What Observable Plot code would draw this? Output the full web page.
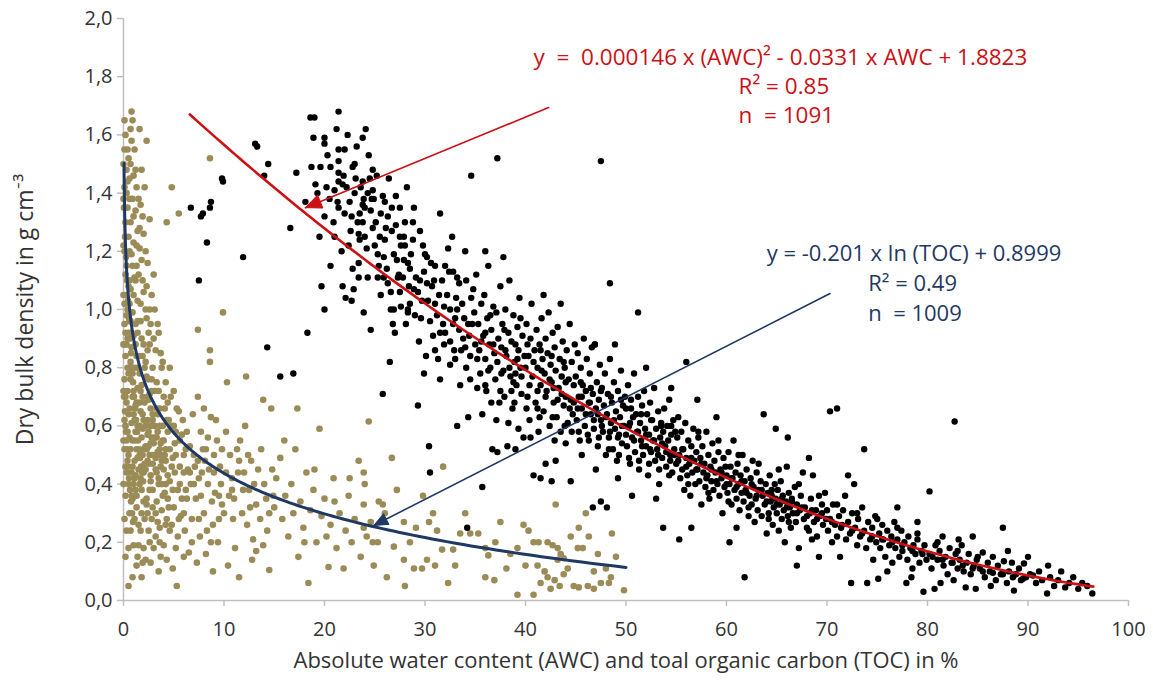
<!DOCTYPE html>
<html><head><meta charset="utf-8">
<script src="https://cdn.jsdelivr.net/npm/d3@7"></script>
<script src="https://cdn.jsdelivr.net/npm/@observablehq/plot@0.6"></script>
<style>body{margin:0;background:#fff;}</style>
</head><body><div id="chart"></div>
<script>
// Absolute water content (AWC) vs dry bulk density — black points
const awcPoints = [
[6.7,1.35],[7.5,1.10],[7.7,1.32],[7.9,1.33],[8.3,1.23],[8.6,1.35],[8.7,1.37],[9.8,1.45],[9.9,1.44],[11.9,1.18],[13.1,1.57],[13.3,1.56],[14.0,1.46],[14.4,1.50],[14.3,0.87],[15.6,0.77],[16.6,1.28],[17.2,1.47],[16.9,0.78],[18.1,1.37],
[18.6,1.66],[19.0,1.66],[21.4,1.68],[21.2,1.62],[22.3,1.60],[18.9,1.59],[20.0,1.59],[20.0,1.57],[21.4,1.55],[19.6,1.49],[18.7,1.49],[20.6,1.49],[21.4,1.51],[21.4,1.47],[19.1,1.43],[20.2,1.42],[19.3,1.40],[21.4,1.44],[21.9,1.46],[21.8,1.43],[21.3,1.37],[21.4,1.35],[22.0,1.33],[20.0,1.32],[21.7,1.20],[19.7,1.08],[20.0,1.00],[21.8,1.08],[22.1,1.04],[18.3,0.92],[20.9,1.30],[19.5,1.25],
[23.8,1.59],[23.1,1.45],[23.8,1.44],[24.5,1.45],[23.0,1.40],[23.6,1.42],[23.9,1.38],[24.3,1.40],[24.8,1.41],[24.7,1.38],[23.8,1.36],[24.0,1.35],[24.9,1.38],[25.8,1.39],[22.7,1.32],[23.3,1.30],[23.8,1.30],[24.8,1.28],[25.6,1.33],[22.6,1.27],[23.4,1.26],[23.5,1.24],[25.3,1.19],[25.9,1.18],[23.4,1.16],[25.4,1.15],[23.4,1.11],[24.3,1.11],[25.3,1.11],[25.9,1.11],[22.9,1.07],[22.7,1.03],[25.6,1.05],[24.1,1.62],[22.8,1.49],[25.2,1.46],[24.4,1.53],[23.2,1.56],[25.5,1.25],[24.2,1.21],[23.9,0.99],[24.6,0.93],[25.8,0.71],
[27.1,1.39],[26.3,1.32],[26.7,1.35],[26.1,1.28],[26.7,1.27],[27.1,1.29],[27.5,1.25],[27.9,1.25],[27.6,1.22],[28.0,1.22],[28.8,1.30],[28.8,1.24],[28.6,1.19],[29.8,1.22],[26.2,1.14],[28.3,1.16],[28.5,1.14],[27.4,1.12],[27.3,1.11],[27.8,1.11],[26.6,1.06],[26.6,1.00],[26.9,1.00],[27.6,1.01],[28.3,1.00],[28.5,1.02],[29.7,1.03],[29.3,1.06],[29.1,1.11],[28.1,0.95],[27.0,0.92],[29.4,0.89],[26.4,1.45],[27.5,1.35],[28.9,1.35],[29.5,1.27],[26.5,0.82],[29.3,0.67],[29.9,0.78],[26.8,0.95],[28.3,0.99],[29.9,1.13],[28.2,1.42],
[20.5,1.38],[21.0,1.41],[22.5,1.37],[22.2,1.42],[23.5,1.33],[24.6,1.34],[25.1,1.30],[26.0,1.24],[26.9,1.19],[27.2,1.17],[27.9,1.17],[28.4,1.08],[28.9,1.07],[29.5,1.10],[29.0,0.98],[25.0,1.22],[24.0,1.25],[22.4,1.22],[21.0,1.25],[20.6,1.15],[22.8,1.14],[26.3,1.09],[27.5,1.06],[28.0,1.30],[29.6,0.97],[26.0,1.37],[23.0,1.50],[20.3,1.53],[22.0,1.55],[24.8,1.48],
[30.0,1.19],[30.2,1.18],[30.6,1.16],[31.0,1.15],[31.4,1.05],[32.0,1.15],[32.4,1.13],[32.8,1.13],[33.2,1.11],[33.4,1.09],[34.1,1.10],[34.8,1.07],[31.5,1.33],[32.7,1.25],[34.6,1.46],[30.3,1.03],[31.2,0.98],[31.8,0.95],[32.5,1.00],[33.0,0.97],[33.7,1.02],[34.3,0.95],[34.9,0.99],[30.8,0.91],[31.9,0.88],[32.9,0.86],[33.8,0.90],[34.5,0.84],[30.4,0.53],[30.5,0.44],[31.5,0.76],[32.5,0.81],[33.5,0.74],[34.5,0.76],[34.3,0.63],[33.2,0.60],[34.2,0.25],[30.1,0.84],[32.3,1.21],[34.0,1.20],[33.1,1.04],[30.7,1.08],[34.6,1.04],[31.7,1.10],[32.0,0.92],[33.0,0.83],[34.0,0.87],[31.0,0.86],
[30.5,0.96],[31.0,1.02],[31.5,0.92],[32.2,1.05],[32.8,0.95],[33.4,0.93],[33.9,0.97],[34.4,0.91],[35.0,0.88],[30.9,1.10],[31.9,1.01],[33.6,0.86],[34.7,0.95],[32.5,0.89],[31.3,0.83],[33.2,1.00],[34.1,0.80],[30.2,1.09],
[35.1,1.12],[35.3,0.95],[35.4,0.86],[35.5,0.78],[35.6,1.02],[35.7,0.64],[35.8,0.91],[35.9,1.05],[36.0,0.83],[36.1,0.72],[36.2,0.97],[36.3,1.15],[36.4,0.88],[36.5,0.80],[36.6,0.93],[36.7,0.52],[36.8,1.01],[36.9,0.85],[37.0,0.76],[37.1,0.99],[37.2,0.51],[37.2,1.52],[37.3,0.90],[37.4,0.68],[37.5,1.08],[37.6,0.87],[37.7,0.95],[37.8,0.79],[37.9,0.70],[38.0,1.00],[38.1,0.84],[38.2,0.53],[38.3,0.61],[38.3,0.92],[38.4,1.10],[38.5,0.77],[38.6,0.89],[38.7,0.66],[38.8,0.98],[38.9,0.82],[39.0,0.52],[39.1,0.74],[39.2,0.94],[39.3,0.59],[39.3,0.86],[39.4,1.04],[39.5,0.80],[39.6,0.71],[39.7,0.91],[39.8,0.56],[39.9,0.84],[35.2,0.73],[36.0,1.20],[37.8,1.18],[38.6,0.72],[39.5,0.97],[36.6,0.68],[35.7,0.39],[37.1,0.62],[39.0,0.78],
[35.2,0.83],[35.6,0.89],[36.0,0.92],[36.3,0.79],[36.8,0.88],[37.2,0.82],[37.6,0.78],[38.0,0.86],[38.4,0.80],[38.8,0.75],[39.2,0.83],[39.6,0.77],[40.0,0.80],[40.4,0.74],[40.8,0.82],[41.2,0.72],[41.6,0.79],[42.0,0.70],[42.4,0.76],[42.8,0.73],[43.2,0.69],[43.6,0.71],[44.0,0.75],[44.4,0.66],[44.8,0.68],[36.5,0.98],[37.9,0.93],[39.0,0.88],[40.2,0.88],[41.5,0.86],[42.6,0.84],[43.8,0.82],[36.0,0.74],[37.5,0.72],[38.9,0.68],[40.1,0.66],[41.4,0.63],[42.7,0.63],[43.9,0.60],[44.6,0.58],
[40.1,0.95],[40.2,0.70],[40.3,0.84],[40.4,0.62],[40.5,0.90],[40.6,1.02],[40.7,0.77],[40.8,0.43],[40.9,0.86],[41.0,0.68],[41.1,0.93],[41.2,0.80],[41.3,0.58],[41.4,0.88],[41.5,0.42],[41.5,0.74],[41.6,0.97],[41.7,0.83],[41.8,0.65],[41.9,0.78],[42.0,0.47],[42.0,0.90],[42.1,0.72],[42.2,0.85],[42.3,0.99],[42.4,0.60],[42.5,0.81],[42.6,0.41],[42.6,0.75],[42.7,0.92],[42.8,0.68],[42.9,0.87],[43.0,0.48],[43.0,0.79],[43.1,0.63],[43.2,0.94],[43.3,0.73],[43.4,0.83],[43.5,0.58],[43.6,0.77],[43.7,0.89],[43.8,0.67],[43.9,0.80],[44.0,0.70],[44.1,0.86],[44.2,0.61],[44.3,0.76],[44.4,0.95],[44.5,0.41],[44.5,0.69],[44.6,0.82],[44.7,0.64],[44.8,0.74],[44.9,0.88],[40.5,0.56],[41.8,1.05],[43.5,1.02],[44.0,0.54],[42.9,0.55],[41.2,0.66],
[45.0,0.77],[45.1,0.62],[45.2,0.85],[45.3,0.70],[45.4,0.55],[45.5,0.80],[45.6,0.66],[45.7,0.74],[45.8,0.90],[45.9,0.60],[46.0,0.72],[46.1,0.83],[46.2,0.57],[46.3,0.68],[46.4,0.78],[46.5,0.64],[46.6,0.87],[46.7,0.32],[46.7,0.71],[46.8,0.59],[46.9,0.88],[47.0,0.66],[47.1,0.75],[47.2,0.53],[47.3,0.69],[47.4,0.81],[47.5,0.34],[47.5,1.51],[47.5,0.62],[47.6,0.73],[47.7,0.58],[47.8,0.67],[47.9,0.78],[48.0,0.50],[48.1,0.32],[48.1,0.64],[48.2,0.71],[48.3,0.56],[48.4,0.83],[48.5,0.61],[48.6,0.68],[48.7,0.52],[48.8,0.75],[48.9,0.59],[49.0,0.65],[49.1,0.48],[49.2,0.72],[49.3,0.57],[49.4,0.63],[49.5,0.79],[49.6,0.54],[49.7,0.67],[49.8,0.60],[49.9,0.70],[48.4,1.09],[46.9,0.88],[47.0,0.45],[49.2,0.42],[45.6,0.50],[48.9,0.88],
[45.2,0.66],[45.6,0.70],[46.0,0.64],[46.4,0.68],[46.8,0.62],[47.2,0.64],[47.6,0.60],[48.0,0.63],[48.4,0.58],[48.8,0.62],[49.2,0.56],[49.6,0.60],[50.0,0.57],[50.4,0.61],[50.8,0.55],[51.2,0.58],[51.6,0.53],[52.0,0.57],[52.4,0.52],[52.8,0.55],[53.2,0.50],[53.6,0.54],[54.0,0.51],[54.4,0.48],[54.8,0.50],[45.5,0.75],[46.5,0.73],[47.5,0.72],[48.5,0.70],[49.5,0.69],[50.5,0.66],[51.5,0.64],[52.5,0.62],[53.5,0.60],[54.5,0.60],[45.3,0.58],[46.3,0.55],[47.3,0.56],[48.3,0.52],[49.3,0.50],[50.3,0.49],[51.3,0.48],[52.3,0.47],[53.3,0.45],[54.3,0.43],
[50.0,0.66],[50.1,0.53],[50.2,0.74],[50.3,0.60],[50.4,0.47],[50.5,0.69],[50.6,0.56],[50.7,0.63],[50.8,0.78],[50.9,0.51],[51.0,0.64],[51.1,0.58],[51.2,0.99],[51.2,0.70],[51.3,0.45],[51.4,0.61],[51.5,0.55],[51.6,0.67],[51.7,0.50],[51.8,0.72],[51.9,0.59],[52.0,0.53],[52.1,0.64],[52.2,0.43],[52.3,0.57],[52.4,0.68],[52.5,0.51],[52.6,0.62],[52.7,0.55],[52.8,0.73],[52.9,0.48],[53.0,0.59],[53.1,0.52],[53.2,0.65],[53.3,0.40],[53.4,0.56],[53.5,0.61],[53.6,0.49],[53.7,0.25],[53.7,0.58],[53.8,0.66],[53.9,0.53],[54.0,0.46],[54.1,0.60],[54.2,0.55],[54.3,0.69],[54.4,0.50],[54.5,0.57],[54.6,0.44],[54.7,0.62],[54.8,0.52],[54.9,0.58],[50.6,0.36],[52.0,0.80],[53.0,0.35],[54.5,0.73],
[55.0,0.47],[55.1,0.56],[55.2,0.63],[55.3,0.21],[55.3,0.50],[55.4,0.42],[55.5,0.58],[55.6,0.45],[55.7,0.52],[55.8,0.38],[55.9,0.61],[56.0,0.82],[56.0,0.49],[56.1,0.43],[56.2,0.55],[56.3,0.47],[56.4,0.36],[56.5,0.25],[56.5,0.53],[56.6,0.44],[56.7,0.59],[56.8,0.48],[56.9,0.40],[57.0,0.51],[57.1,0.69],[57.1,0.45],[57.2,0.56],[57.3,0.41],[57.4,0.49],[57.5,0.33],[57.6,0.53],[57.7,0.44],[57.8,0.47],[57.9,0.39],[58.0,0.58],[58.1,0.43],[58.2,0.50],[58.3,0.35],[58.4,0.46],[58.5,0.41],[58.6,0.54],[58.7,0.38],[58.8,0.48],[58.9,0.44],[59.0,0.63],[59.1,0.40],[59.2,0.51],[59.3,0.36],[59.4,0.45],[59.5,0.42],[59.6,0.30],[59.7,0.49],[59.8,0.39],[59.9,0.46],
[55.2,0.48],[55.6,0.52],[56.0,0.46],[56.5,0.49],[57.0,0.45],[57.5,0.47],[58.0,0.42],[58.5,0.45],[59.0,0.41],[59.5,0.44],[60.0,0.40],[60.5,0.42],[61.0,0.39],[61.5,0.41],[62.0,0.37],[62.5,0.40],[63.0,0.36],[63.5,0.38],[64.0,0.34],[64.5,0.36],[65.0,0.33],[65.5,0.35],[66.0,0.32],[66.5,0.34],[67.0,0.30],[67.5,0.32],[68.0,0.29],[68.5,0.31],[69.0,0.28],[69.5,0.30],[56.2,0.40],[58.2,0.37],[60.2,0.34],[62.2,0.32],[64.2,0.28],[66.2,0.27],[68.2,0.24],[57.2,0.58],[59.2,0.55],[61.2,0.50],[63.2,0.47],[65.2,0.45],[67.2,0.40],[69.2,0.36],
[60.0,0.43],[60.1,0.37],[60.2,0.51],[60.3,0.20],[60.3,0.40],[60.4,0.46],[60.5,0.33],[60.6,0.42],[60.7,0.55],[60.8,0.38],[60.9,0.44],[61.0,0.25],[61.0,0.35],[61.1,0.47],[61.2,0.40],[61.3,0.31],[61.4,0.43],[61.5,0.37],[61.6,0.50],[61.7,0.34],[61.8,0.08],[61.8,0.41],[61.9,0.38],[62.0,0.45],[62.2,0.29],[62.3,0.36],[62.4,0.42],[62.5,0.33],[62.6,0.48],[62.7,0.39],[62.8,0.27],[62.9,0.35],[63.0,0.44],[63.1,0.31],[63.2,0.38],[63.4,0.41],[63.5,0.29],[63.6,0.36],[63.7,0.64],[63.8,0.33],[63.9,0.40],[64.0,0.23],[64.1,0.37],[64.2,0.30],[64.3,0.43],[64.4,0.34],[64.5,0.38],[64.6,0.26],[64.7,0.32],[64.8,0.40],[64.9,0.59],[64.9,0.35],
[65.0,0.30],[65.1,0.38],[65.2,0.24],[65.3,0.33],[65.4,0.41],[65.5,0.28],[65.6,0.36],[65.7,0.31],[65.8,0.20],[65.9,0.34],[66.0,0.46],[66.1,0.56],[66.1,0.29],[66.2,0.37],[66.3,0.32],[66.4,0.25],[66.5,0.35],[66.6,0.30],[66.8,0.39],[66.9,0.27],[67.0,0.33],[67.2,0.18],[67.3,0.31],[67.4,0.36],[67.6,0.44],[67.7,0.28],[67.8,0.32],[68.0,0.25],[68.2,0.49],[68.3,0.30],[68.4,0.35],[68.6,0.43],[68.7,0.27],[68.9,0.31],[69.0,0.22],[69.2,0.15],[69.3,0.29],[69.5,0.33],[69.6,0.26],[69.8,0.37],[69.9,0.28],[67.0,0.12],[68.5,0.21],
[70.0,0.31],[70.1,0.24],[70.3,0.65],[70.3,0.28],[70.5,0.20],[70.6,0.33],[70.8,0.26],[71.0,0.66],[71.0,0.22],[71.2,0.29],[71.3,0.15],[71.4,0.25],[71.6,0.31],[71.8,0.36],[71.9,0.21],[72.1,0.43],[72.1,0.27],[72.3,0.23],[72.4,0.06],[72.5,0.30],[72.7,0.40],[72.8,0.25],[73.0,0.19],[73.1,0.28],[73.3,0.22],[73.5,0.32],[73.7,0.52],[73.7,0.24],[73.9,0.18],[74.0,0.06],[74.1,0.27],[74.3,0.21],[74.5,0.25],[74.6,0.14],[74.8,0.29],[74.9,0.20],
[75.1,0.075],[75.2,0.23],[75.3,0.18],[75.5,0.26],[75.6,0.21],[75.8,0.15],[76.0,0.10],[76.0,0.24],[76.2,0.19],[76.4,0.22],[76.5,0.13],[76.7,0.27],[76.8,0.18],[77.0,0.21],[77.2,0.15],[77.4,0.24],[77.5,0.17],[77.7,0.20],[77.9,0.06],[78.0,0.14],[78.1,0.22],[78.3,0.18],[78.5,0.11],[78.6,0.19],[78.8,0.16],[79.0,0.27],[79.0,0.21],[79.2,0.13],[79.4,0.17],[79.6,0.03],[79.7,0.19],[79.9,0.14],[77.0,0.32],[78.4,0.08],
[70.5,0.27],[71.5,0.26],[72.5,0.24],[73.5,0.23],[74.5,0.22],[75.5,0.21],[76.5,0.20],[77.5,0.19],[78.5,0.17],[79.5,0.16],[80.5,0.15],[81.5,0.14],[82.5,0.13],[83.5,0.12],[84.5,0.11],[85.5,0.10],[86.5,0.095],[87.5,0.09],[88.5,0.08],[89.5,0.075],[71.0,0.33],[73.0,0.30],[75.0,0.28],[77.0,0.25],[79.0,0.23],[81.0,0.20],[83.0,0.17],[85.0,0.15],
[80.2,0.375],[80.2,0.16],[80.4,0.11],[80.7,0.04],[80.8,0.19],[81.0,0.14],[81.2,0.17],[81.5,0.22],[81.6,0.12],[81.8,0.15],[82.0,0.09],[82.2,0.18],[82.4,0.13],[82.6,0.07],[82.7,0.615],[82.8,0.16],[83.0,0.11],[83.2,0.14],[83.4,0.19],[83.6,0.10],[83.8,0.045],[83.9,0.13],[84.1,0.16],[84.3,0.09],[84.5,0.22],[84.6,0.12],[84.8,0.04],[84.9,0.14],[81.3,0.06],[83.1,0.21],
[85.2,0.11],[85.5,0.165],[85.7,0.08],[86.0,0.13],[86.2,0.10],[86.5,0.15],[86.8,0.07],[87.0,0.12],[87.3,0.09],[87.5,0.25],[87.6,0.135],[87.9,0.06],[88.1,0.10],[88.4,0.13],[88.6,0.034],[88.8,0.09],[89.1,0.11],[89.3,0.07],[89.6,0.127],[89.8,0.08],[86.3,0.05],[88.0,0.17],
[90.2,0.09],[90.5,0.086],[90.8,0.06],[91.1,0.10],[91.4,0.07],[91.9,0.024],[92.2,0.08],[92.6,0.05],[93.0,0.07],[93.3,0.10],[93.7,0.045],[94.1,0.06],[94.5,0.08],[95.0,0.04],[95.4,0.06],[95.9,0.05],[96.4,0.024],[92.0,0.12],[90.0,0.15]
];

// Total organic carbon (TOC) vs dry bulk density — olive points
const tocPoints = [
[0.1,1.55],[0.2,1.60],[0.3,1.48],[0.1,1.42],[0.4,1.35],[0.2,1.30],[0.5,1.25],[0.1,1.20],[0.3,1.15],[0.6,1.10],[0.2,1.05],[0.4,1.00],[0.1,0.95],[0.5,0.92],[0.3,0.88],[0.2,0.84],[0.6,0.80],[0.1,0.76],[0.4,0.72],[0.3,0.68],[0.5,0.64],[0.2,0.60],[0.6,0.56],[0.1,0.52],[0.4,0.48],[0.3,0.44],[0.5,0.40],[0.2,0.36],[0.6,0.30],[0.3,0.24],[0.5,0.18],[0.4,1.44],[0.5,1.52],[0.6,1.38],[0.2,1.12],[0.6,1.02],[0.4,0.90],[0.5,0.78],[0.2,0.70],[0.6,0.66],[0.4,0.58],[0.1,0.62],[0.2,0.46],[0.5,0.50],[0.1,0.88],[0.3,0.98],[0.5,1.08],[0.1,1.65],[0.3,0.55],[0.4,0.80],[0.6,0.96],[0.6,1.20],[0.1,1.02],[0.3,1.40],[0.2,0.92],
[0.8,1.68],[0.9,1.65],[0.8,1.58],[1.1,1.55],[0.7,1.50],[1.0,1.46],[1.3,1.42],[0.9,1.38],[1.2,1.34],[0.7,1.30],[1.4,1.27],[1.0,1.23],[0.8,1.19],[1.3,1.15],[1.1,1.11],[0.7,1.07],[1.4,1.03],[0.9,0.99],[1.2,0.95],[1.0,0.91],[0.8,0.87],[1.3,0.84],[1.1,0.80],[0.7,0.76],[1.4,0.73],[0.9,0.70],[1.2,0.67],[1.0,0.64],[0.8,0.61],[1.3,0.58],[1.1,0.55],[0.7,0.52],[1.4,0.49],[0.9,0.46],[1.2,0.43],[1.0,0.40],[0.8,0.36],[1.3,0.32],[1.1,0.28],[0.7,0.24],[1.0,0.19],[1.4,0.15],[0.9,0.08],[1.2,0.88],[0.8,0.92],[1.4,0.60],[1.0,0.72],[0.7,0.82],[1.3,0.68],[1.1,0.48],[0.9,0.55],[1.2,0.38],[0.8,0.44],[1.4,0.96],[1.0,1.05],[0.7,0.96],[1.3,0.52],[1.5,0.19],[1.1,0.62],[0.9,0.78],
[1.6,1.62],[2.3,1.58],[1.8,1.48],[2.1,1.42],[1.7,1.36],[2.6,1.31],[2.0,1.26],[1.6,1.21],[2.4,1.16],[1.9,1.10],[2.8,1.05],[2.2,1.00],[1.7,0.96],[2.5,0.92],[2.0,0.88],[1.6,0.84],[2.9,0.80],[2.3,0.77],[1.8,0.74],[2.6,0.71],[2.1,0.68],[1.7,0.65],[2.4,0.62],[1.9,0.59],[2.8,0.56],[2.2,0.53],[1.6,0.50],[2.5,0.47],[2.0,0.44],[2.7,0.41],[1.8,0.38],[2.3,0.35],[2.9,0.32],[2.1,0.28],[1.7,0.24],[2.6,0.20],[2.2,0.14],[1.9,0.13],[2.4,0.86],[1.6,0.78],[2.7,0.66],[2.0,0.62],[1.8,0.56],[2.5,0.58],[2.9,0.50],[2.2,0.45],[1.7,0.42],[2.8,0.72],[2.3,0.52],[1.9,0.70],[2.6,0.38],[2.1,0.80],[1.6,0.60],[2.4,0.48],[2.0,0.34],[2.7,0.54],[1.8,0.90],[2.9,0.62],[2.5,0.76],[2.2,1.20],[1.9,1.32],[2.7,0.95],[3.0,1.12],[2.0,0.52],[2.4,0.30],
[0.05,1.35],[0.15,1.25],[0.25,1.18],[0.35,1.10],[0.45,1.03],[0.55,0.97],[0.65,0.90],[0.75,0.85],[0.85,0.80],[0.95,0.75],[1.05,0.70],[1.15,0.66],[1.25,0.62],[1.35,0.58],[1.45,0.55],[1.55,0.52],[1.65,0.49],[1.75,0.46],[1.85,0.44],[1.95,0.41],
[0.05,0.70],[0.15,0.65],[0.25,0.58],[0.35,0.52],[0.45,0.46],[0.55,0.42],[0.65,0.38],[0.75,0.34],[0.85,0.30],[0.95,0.27],
[0.6,1.45],[0.4,1.55],[0.7,1.62],[1.2,1.48],[1.5,1.38],[1.0,1.32],[1.6,1.28],[1.3,1.22],[1.8,1.17],[1.5,1.12],[2.0,1.06],[1.7,1.02],[2.3,0.97],[1.4,0.92],[2.6,0.88],[1.9,0.84],[2.2,0.82],[2.8,0.76],[3.1,0.72],[2.5,0.69],[3.3,0.66],[2.9,0.64],[3.6,0.60],[2.4,0.57],[3.0,0.54],[3.4,0.51],[2.6,0.50],[3.8,0.48],[2.1,0.47],[3.2,0.45],[2.7,0.43],[3.5,0.42],[1.6,0.40],[2.9,0.38],[3.9,0.36],[2.3,0.33],[1.8,0.30],[2.8,0.28],[3.4,0.27],[1.5,0.26],[2.5,0.24],[3.0,0.18],[1.3,0.12],[2.0,0.18],[3.6,0.20],[4.5,0.32],[4.6,0.24],[4.2,0.40],[4.0,0.55],[4.5,0.62],[4.2,0.75],[3.7,0.85],[3.4,0.95],[3.0,0.90],[2.6,1.00],[2.3,1.08],[1.2,1.10],[0.9,1.15],[1.4,0.80],[1.7,0.72],[1.9,0.64],[1.2,0.58],[1.6,0.68],[2.4,0.70],[2.2,0.60],[2.7,0.60],[3.1,0.60],[1.1,0.42],[1.5,0.45],[0.9,0.35],[1.3,0.36],[1.9,0.50],[2.5,0.53],[3.3,0.56],[2.9,0.47],[3.7,0.50],[4.1,0.50],[4.8,0.46],[5.2,0.50],[5.6,0.55],[6.0,0.50],[5.0,0.60],[5.5,0.65],[4.4,0.68],[6.6,0.44],[7.0,0.40],[6.2,0.38],[7.4,0.48],[7.8,0.44],[8.5,0.45],[8.2,0.52],[9.0,0.50],[9.5,0.36],[10.2,0.44],[10.8,0.38],[11.5,0.48],[12.4,0.50],[10.0,0.30],[6.8,0.20],[6.0,0.15],[7.5,0.28],[8.7,0.20],[5.2,0.18],[4.3,0.14],[3.5,0.10],[2.7,0.13],[1.8,0.08],[0.5,0.05],[0.2,0.15],[0.1,0.28],[0.0,0.40],[0.0,0.55],[0.0,0.72],[0.0,0.88],[0.0,1.05],[0.0,1.22],[0.0,1.38],[0.0,1.50],
[3.1,1.00],[3.5,0.92],[3.2,0.86],[3.8,0.80],[3.3,0.75],[4.0,0.70],[3.6,0.66],[4.3,0.62],[3.4,0.58],[3.9,0.55],[4.2,0.52],[3.2,0.49],[3.7,0.46],[4.4,0.43],[3.5,0.40],[4.1,0.37],[3.3,0.34],[3.8,0.31],[4.3,0.28],[3.6,0.25],[3.2,0.22],[4.0,0.19],[3.7,0.15],[4.3,1.30],[3.4,0.64],[3.9,0.60],[4.2,0.48],[3.1,0.56],[3.6,0.52],[4.4,0.58],[3.3,0.44],[3.8,0.40],[4.1,0.66],[3.5,0.72],[4.4,0.35],[3.9,0.82],[3.2,0.30],[4.0,0.45],[3.7,0.54],[4.2,0.26],
[4.8,1.42],[5.5,1.33],[4.6,0.80],[5.0,0.72],[5.3,0.66],[4.7,0.60],[5.8,0.57],[5.1,0.54],[6.2,0.52],[4.9,0.49],[5.6,0.46],[6.0,0.44],[4.6,0.41],[5.4,0.38],[6.3,0.35],[5.0,0.32],[5.7,0.29],[4.8,0.26],[6.1,0.24],[5.4,0.22],[6.5,0.165],[4.9,0.11],[5.3,0.05],[5.9,0.62],[5.2,0.58],[4.7,0.70],[6.4,0.45],[5.6,0.40],[4.6,0.52],[6.0,0.30],[5.1,0.44],[5.8,0.35],[6.3,0.58],[4.9,0.38],[5.5,0.28],
[6.9,0.64],[7.4,0.93],[8.6,0.86],[8.6,0.82],[8.6,1.52],[7.7,0.58],[8.7,0.63],[9.3,0.55],[7.0,0.50],[8.1,0.48],[9.6,0.46],[7.5,0.42],[8.4,0.40],[9.1,0.37],[7.2,0.35],[9.8,0.33],[8.0,0.30],[6.8,0.28],[8.9,0.26],[7.6,0.22],[9.4,0.20],[8.2,0.16],[8.9,0.10],[7.3,0.13],[9.9,0.99],[9.0,0.44],[7.9,0.52],[6.7,0.40],[9.5,0.28],[8.4,0.56],[7.1,0.46],[9.8,0.52],[8.8,0.34],[7.7,0.36],[6.6,0.53],[9.2,0.62],[8.3,0.24],[7.4,0.70],[9.7,0.40],[8.0,0.66],
[10.3,0.75],[10.4,0.12],[10.6,0.50],[10.8,0.42],[11.0,0.35],[11.3,0.52],[11.5,0.08],[11.6,0.55],[11.8,0.30],[12.0,0.44],[12.2,0.77],[12.3,0.26],[12.5,0.38],[12.7,0.48],[12.9,0.21],[13.2,0.17],[13.2,0.33],[13.4,0.45],[13.6,0.28],[13.9,0.69],[13.9,0.19],[14.0,0.40],[14.2,0.35],[14.5,0.105],[14.5,0.30],[14.7,0.66],[14.8,0.45],[10.2,0.58],[10.9,0.28],[11.4,0.44],[12.1,0.60],[12.6,0.32],[13.0,0.40],[13.7,0.52],[14.3,0.24],[11.1,0.18],[10.5,0.36],[12.8,0.14],[14.9,0.36],[11.9,0.38],
[15.2,0.42],[15.6,0.49],[15.8,0.28],[16.1,0.36],[16.4,0.22],[16.7,0.40],[17.1,0.52],[17.3,0.66],[17.4,0.15],[17.6,0.34],[17.9,0.25],[18.2,0.44],[18.4,0.06],[18.6,0.31],[18.9,0.38],[19.2,0.20],[19.5,0.59],[19.7,0.29],[20.0,0.35],[20.4,0.115],[20.6,0.26],[20.9,0.42],[21.2,0.18],[21.5,0.30],[21.9,0.11],[22.1,0.24],[22.4,0.36],[22.7,0.20],[23.0,0.28],[23.4,0.48],[23.6,0.15],[23.9,0.33],[24.2,0.22],[24.4,0.615],[24.6,0.27],[24.9,0.12],[15.0,0.32],[16.0,0.55],[18.0,0.20],[19.0,0.45],[21.0,0.34],[22.5,0.42],[16.9,0.30],[20.2,0.22],[24.0,0.40],[23.9,0.44],[23.9,0.25],
[26.7,0.49],[31.8,0.46],[25.4,0.34],[25.8,0.33],[26.0,0.30],[30.8,0.30],[27.9,0.27],[29.1,0.25],[30.4,0.27],[31.2,0.24],[25.3,0.20],[24.8,0.20],[26.9,0.185],[27.9,0.14],[28.9,0.11],[29.7,0.11],[30.2,0.14],[31.0,0.12],[32.3,0.06],[31.7,0.175],[32.8,0.175],[33.5,0.23],[34.5,0.23],[27.2,0.38],[28.5,0.20],[26.2,0.08],[29.8,0.36],[33.0,0.12],[34.0,0.30],[28.0,0.05],
[35.3,0.23],[36.0,0.18],[36.3,0.155],[36.0,0.08],[36.9,0.07],[37.5,0.27],[38.1,0.11],[38.5,0.16],[39.2,0.18],[39.8,0.26],[40.3,0.24],[39.2,0.02],[40.8,0.02],[40.8,0.20],[41.3,0.20],[42.2,0.20],[42.7,0.19],[43.2,0.18],[42.2,0.08],[41.5,0.06],[41.9,0.10],[42.5,0.04],[42.9,0.07],[43.4,0.05],[43.8,0.09],[41.2,0.12],[43.0,0.33],[45.3,0.25],[46.0,0.30],[46.3,0.22],[45.2,0.18],[45.7,0.18],[43.5,0.16],[43.8,0.145],[44.8,0.05],[45.3,0.045],[46.2,0.05],[46.8,0.04],[47.5,0.06],[48.3,0.06],[48.5,0.08],[49.8,0.035],[46.8,0.10],[48.0,0.11],[48.6,0.23],[43.2,0.14],[44.2,0.11],[40.0,0.12],[37.0,0.20],[49.0,0.15],[47.2,0.16],[44.5,0.22]
];

// Fit equations as printed in the chart
const awcCoef = [0.000146, -0.0331, 1.8823];   // y = a·AWC² + b·AWC + c
const awcRange = [6.6, 96.5];
const tocCoef = [-0.201, 0.8999];               // y = a·ln(TOC) + b
const tocRange = [0.05, 50];

const xTicks = [0,10,20,30,40,50,60,70,80,90,100];
const yTicks = [0,0.2,0.4,0.6,0.8,1.0,1.2,1.4,1.6,1.8,2.0];

// Annotation arrows: [start, end] in data units
const redArrow = [[42.3,1.694],[18.1,1.350]];
const blueArrow = [[70.3,1.055],[24.9,0.258]];

const redLabel = ["y\u00a0\u00a0=\u00a0\u00a00.000146 x (AWC)\u00b2 - 0.0331 x AWC + 1.8823", "R\u00b2 = 0.85", "n\u00a0\u00a0= 1091"];
const redLabelPos = [[40.8,1.866],[61.2,1.766],[61.2,1.667]];
const blueLabel = ["y = -0.201 x ln (TOC) + 0.8999", "R\u00b2 = 0.49", "n\u00a0\u00a0= 1009"];
const blueLabelPos = [[64.0,1.192],[74.1,1.089],[74.1,0.986]];

// ---- build ----
const W = 1153, H = 688, ML = 123, MR = 25, MT = 18, MB = 88;
const kx = (W - ML - MR) / 100, ky = (H - MT - MB) / 2;

const awcCurve = d3.range(0, 201).map(i => {
  const x = awcRange[0] + (awcRange[1] - awcRange[0]) * i / 200;
  return {x, y: awcCoef[0]*x*x + awcCoef[1]*x + awcCoef[2]};
});
const tocCurve = d3.range(0, 301).map(i => {
  const x = tocRange[0] * Math.pow(tocRange[1] / tocRange[0], i / 300);
  return {x, y: tocCoef[0]*Math.log(x) + tocCoef[1]};
});

function head([s, e], L, Wd) {
  const sx = s[0]*kx, sy = -s[1]*ky, ex = e[0]*kx, ey = -e[1]*ky;
  const dx = ex - sx, dy = ey - sy, len = Math.hypot(dx, dy);
  const ux = dx/len, uy = dy/len, px = -uy, py = ux;
  const bx = ex - ux*L, by = ey - uy*L;
  const pts = [[ex,ey],[bx+px*Wd, by+py*Wd],[bx-px*Wd, by-py*Wd],[ex,ey]];
  return pts.map(([X,Y]) => ({x: X/kx, y: -Y/ky}));
}
const toObj = a => a.map(([x,y]) => ({x,y}));

const red = "#cc1014", blue = "#1f3864", olive = "#9b8c57";
const font = "'Open Sans', Lato, sans-serif";

const plot = Plot.plot({
  width: W, height: H, marginLeft: ML, marginRight: MR, marginTop: MT, marginBottom: MB,
  x: {domain: [0, 100]},
  y: {domain: [0, 2]},
  style: {fontFamily: font, fontSize: "20px", color: "#333", background: "#fff"},
  marks: [
    Plot.axisX(xTicks, {tickSize: 6, tickPadding: 15, stroke: "#bfbfbf", strokeWidth: 1.5, tickFormat: d => String(d), label: null, fontSize: 20}),
    Plot.axisY(yTicks, {tickSize: 6, tickPadding: 5, stroke: "#bfbfbf", strokeWidth: 1.5, tickFormat: d => d.toFixed(1).replace(".", ","), label: null, fontSize: 20}),
    Plot.ruleY([0], {stroke: "#bfbfbf", strokeWidth: 1.5}),
    Plot.ruleX([0], {stroke: "#bfbfbf", strokeWidth: 1.5}),
    Plot.dot(toObj(tocPoints), {x: "x", y: "y", r: 3.3, fill: olive}),
    Plot.dot(toObj(awcPoints), {x: "x", y: "y", r: 3.2, fill: "#000"}),
    Plot.line(tocCurve, {x: "x", y: "y", stroke: blue, strokeWidth: 3}),
    Plot.line(awcCurve, {x: "x", y: "y", stroke: red, strokeWidth: 2.6}),
    Plot.line(toObj(redArrow), {x: "x", y: "y", stroke: red, strokeWidth: 1.6}),
    Plot.line(head(redArrow, 16, 7), {x: "x", y: "y", fill: red, stroke: red, strokeWidth: 1}),
    Plot.line(toObj(blueArrow), {x: "x", y: "y", stroke: blue, strokeWidth: 1.6}),
    Plot.line(head(blueArrow, 14, 6), {x: "x", y: "y", fill: blue, stroke: blue, strokeWidth: 1}),
    Plot.text(redLabel, {x: (d,i) => redLabelPos[i][0], y: (d,i) => redLabelPos[i][1], text: d => d, textAnchor: "start", fill: red, fontSize: 22.5}),
    Plot.text(blueLabel, {x: (d,i) => blueLabelPos[i][0], y: (d,i) => blueLabelPos[i][1], text: d => d, textAnchor: "start", fill: blue, fontSize: 22}),
    Plot.text(["Absolute water content (AWC) and toal organic carbon (TOC) in %"], {frameAnchor: "bottom", dy: 67, fontSize: 22, fill: "#333"}),
    Plot.text(["Dry bulk density in g cm\u207b\u00b3"], {frameAnchor: "left", dx: -98, rotate: -90, textAnchor: "middle", fontSize: 23, fill: "#333"})
  ]
});
document.getElementById("chart").appendChild(plot);
</script>
</body></html>
